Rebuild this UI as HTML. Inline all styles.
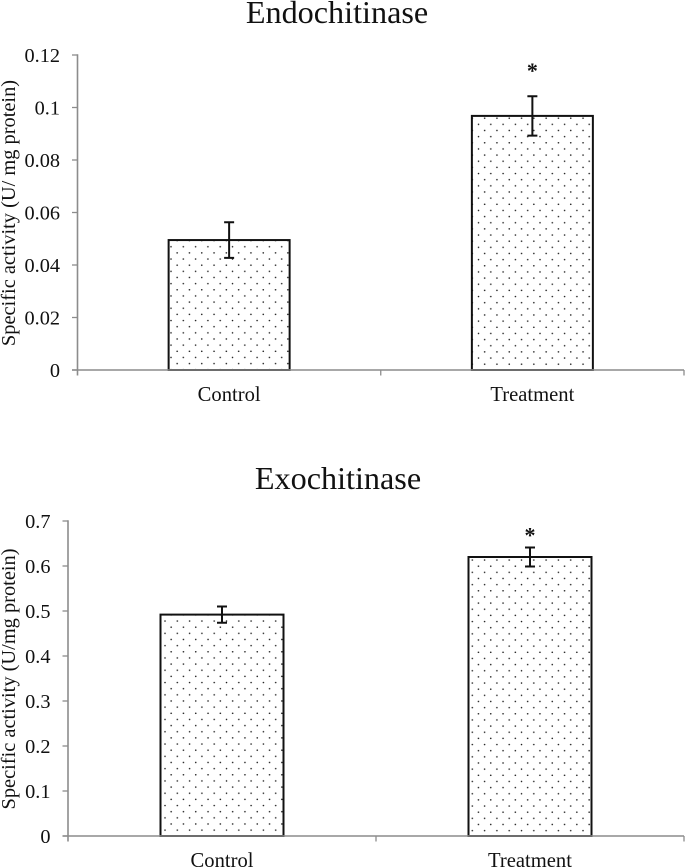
<!DOCTYPE html>
<html>
<head>
<meta charset="utf-8">
<title>Endochitinase and Exochitinase specific activity</title>
<style>
html,body{margin:0;padding:0;background:#fff;width:685px;height:867px;overflow:hidden}
svg{display:block;position:absolute;left:0;top:0}
text{font-family:"Liberation Serif",serif;fill:#111}
</style>
</head>
<body>
<svg id="figure" width="685" height="867" viewBox="0 0 685 867" xmlns="http://www.w3.org/2000/svg">
<defs id="defs"></defs>
</svg>
<script>
var categories = ['Control', 'Treatment'];
var endoValues = [0.0495, 0.0968];
var endoErrors = [0.0068, 0.0075];
var endoTicks = [0, 0.02, 0.04, 0.06, 0.08, 0.1, 0.12];
var endoMarks = ['', '*'];
var exoValues = [0.492, 0.62];
var exoErrors = [0.018, 0.021];
var exoTicks = [0, 0.1, 0.2, 0.3, 0.4, 0.5, 0.6, 0.7];
var exoMarks = ['', '*'];

var svg = document.getElementById('figure');
var defs = document.getElementById('defs');
var NS = 'http://www.w3.org/2000/svg';

function make(tag, attrs, text, parent) {
  var el = document.createElementNS(NS, tag);
  for (var k in attrs) el.setAttribute(k, attrs[k]);
  if (text !== undefined && text !== null) el.textContent = text;
  (parent || svg).appendChild(el);
  return el;
}

function dotPattern(id, ox, oy) {
  var p = make('pattern', {id: id, patternUnits: 'userSpaceOnUse', x: ox - 1, y: oy - 1, width: 12.3, height: 12.3}, null, defs);
  make('circle', {cx: 1, cy: 1, r: 0.8, fill: '#1a1a1a'}, null, p);
  make('circle', {cx: 7.15, cy: 7.15, r: 0.8, fill: '#1a1a1a'}, null, p);
}

function drawChart(o) {
  var yScale = function (v) { return o.y0 - (v / o.yMax) * (o.y0 - o.yTop); };
  var step = (o.xRight - o.xLeft) / o.categories.length;
  var xCenter = function (i) { return o.xLeft + step * (i + 0.5); };

  var title = make('text', {x: o.titleX, y: o.titleY, 'text-anchor': 'middle', 'font-size': 32.2}, o.title);
  
  

  var yTitle = make('text', {transform: 'translate(' + o.yTitleX + ',' + o.yTitleY + ') rotate(-90)', 'text-anchor': 'middle', 'font-size': 20.4}, o.yTitle);
  
  

  o.values.forEach(function (v, i) {
    var cx = xCenter(i);
    var top = yScale(v);
    var pid = o.prefix + '-dots-' + i;
    dotPattern(pid, o.dotOrigins[i][0], o.dotOrigins[i][1]);
    var bar = make('rect', {x: cx - o.barWidth / 2, y: top, width: o.barWidth, height: o.y0 - top, fill: 'url(#' + pid + ')', stroke: '#111', 'stroke-width': 2});
    
    

    var hi = yScale(v + o.errors[i]);
    var lo = yScale(v - o.errors[i]);
    var err = make('path', {d: 'M' + (cx - 5) + ' ' + hi + 'H' + (cx + 5) + 'M' + cx + ' ' + hi + 'V' + lo + 'M' + (cx - 5) + ' ' + lo + 'H' + (cx + 5), fill: 'none', stroke: '#111', 'stroke-width': 2});
    
    

    if (o.marks[i]) {
      var mark = make('text', {x: cx, y: hi - o.markGap, 'text-anchor': 'middle', 'font-size': 22, 'font-weight': 'bold'}, o.marks[i]);
      
      
    }

    var label = make('text', {x: cx, y: o.catY, 'text-anchor': 'middle', 'font-size': 20.6}, o.categories[i]);
    
    
  });

  var yAxis = make('line', {x1: o.xLeft, x2: o.xLeft, y1: o.yTop - 0.75, y2: o.y0 + 5.5, stroke: '#8c8c8c', 'stroke-width': 1.6});
  
  

  var xAxis = make('line', {x1: o.xLeft - 5.5, x2: o.xRight, y1: o.y0, y2: o.y0, stroke: '#8c8c8c', 'stroke-width': 1.6});
  
  

  o.ticks.forEach(function (t) {
    var y = yScale(t);
    var tick = make('line', {x1: o.xLeft - 5.5, x2: o.xLeft, y1: y, y2: y, stroke: '#8c8c8c', 'stroke-width': 1.3});
    
    

    var lab = make('text', {x: o.xLeft - 17.5, y: y + 6.8, 'text-anchor': 'end', 'font-size': 20.3}, String(t));
    
    
  });

  for (var i = 1; i <= o.categories.length; i++) {
    var tx = o.xLeft + step * i;
    var xt = make('line', {x1: tx, x2: tx, y1: o.y0, y2: o.y0 + 5.5, stroke: '#8c8c8c', 'stroke-width': 1.3});
    
    
  }
}

drawChart({
  prefix: 'endochitinase', title: 'Endochitinase', titleX: 337, titleY: 23,
  yTitle: 'Specific activity (U/ mg protein)', yTitleX: 15, yTitleY: 213,
  categories: categories, values: endoValues, errors: endoErrors, ticks: endoTicks, marks: endoMarks,
  yMax: 0.12, xLeft: 77.5, xRight: 684, yTop: 55, y0: 370, barWidth: 121, catY: 401, markGap: 18,
  dotOrigins: [[171, 246.7], [478.5, 124.3]]
});

drawChart({
  prefix: 'exochitinase', title: 'Exochitinase', titleX: 338, titleY: 489,
  yTitle: 'Specific activity (U/mg protein)', yTitleX: 15, yTitleY: 679,
  categories: categories, values: exoValues, errors: exoErrors, ticks: exoTicks, marks: exoMarks,
  yMax: 0.7, xLeft: 68, xRight: 684, yTop: 521, y0: 836, barWidth: 123, catY: 867, markGap: 5,
  dotOrigins: [[165, 621], [472.3, 560]]
});
</script>
</body>
</html>
